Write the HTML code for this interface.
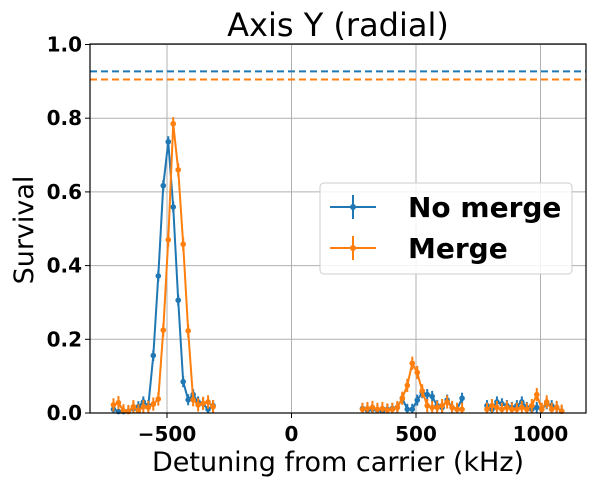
<!DOCTYPE html>
<html><head><meta charset="utf-8"><style>
body{margin:0;background:#fff}
svg text{font-family:"DejaVu Sans","Liberation Sans",sans-serif}
</style></head><body>
<svg id="c" width="599" height="487" viewBox="0 0 599 487" xmlns="http://www.w3.org/2000/svg">
<g id="grid"></g>
<g id="plot"></g>
<rect x="90" y="44" width="496" height="369" fill="none" stroke="#000" stroke-width="1.2"/>
<g id="ticks"></g>
<text x="338" y="36" font-size="32" text-anchor="middle">Axis Y (radial)</text>
<text x="338" y="471" font-size="27" text-anchor="middle">Detuning from carrier (kHz)</text>
<text transform="translate(33,230) rotate(-90)" font-size="27" text-anchor="middle">Survival</text>
<g>
<rect x="320" y="183" width="252" height="91" rx="4" fill="#fff" fill-opacity="0.85" stroke="#ccc"/>
<g>
<line x1="330" y1="207" x2="376" y2="207" stroke="#1f77b4" stroke-width="2"/><line x1="353" y1="195" x2="353" y2="219" stroke="#1f77b4" stroke-width="2"/><circle cx="353" cy="207" r="3" fill="#1f77b4"/>
<text x="408" y="217" font-size="28" font-weight="bold">No merge</text></g>
<g>
<line x1="330" y1="248" x2="376" y2="248" stroke="#ff7f0e" stroke-width="2"/><line x1="353" y1="236" x2="353" y2="260" stroke="#ff7f0e" stroke-width="2"/><circle cx="353" cy="248" r="3" fill="#ff7f0e"/>
<text x="408" y="258" font-size="28" font-weight="bold">Merge</text></g>
</g>
</svg>
<script>
const xTicks=[-500,0,500,1000];
const yTicks=[0.0,0.2,0.4,0.6,0.8,1.0];
const xA=[-715,-695,-675,-655,-635,-615,-595,-575,-555,-535,-515,-495,-475,-455,-435,-415,-395,-375,-355,-335,-315];
const blueA=[0.01,0.004,0.004,0.005,0.012,0.017,0.03,0.02,0.156,0.372,0.617,0.736,0.559,0.306,0.085,0.036,0.05,0.03,0.025,0.01,0.02];
const orangeA=[0.022,0.028,0.006,0.004,0.017,0.006,0.017,0.015,0.024,0.038,0.225,0.47,0.785,0.66,0.458,0.223,0.036,0.022,0.026,0.03,0.017];
const xB=[285,305,325,345,365,385,405,425,445,465,485,505,525,545,565,585,605,625,645,665,685];
const blueB=[0.012,0.008,0.01,0.008,0.006,0.01,0.012,0.015,0.04,0.01,0.01,0.035,0.055,0.05,0.045,0.02,0.015,0.035,0.015,0.01,0.04];
const orangeB=[0.01,0.012,0.015,0.01,0.012,0.008,0.01,0.015,0.04,0.075,0.135,0.11,0.06,0.02,0.015,0.015,0.02,0.03,0.015,0.01,0.01];
const xC=[785,805,825,845,865,885,905,925,945,965,985,1005,1025,1045,1065,1085];
const blueC=[0.02,0.01,0.03,0.025,0.02,0.015,0.02,0.03,0.015,0.01,0.015,0.01,0.025,0.02,0.015,0.005];
const orangeC=[0.01,0.02,0.015,0.01,0.015,0.01,0.01,0.015,0.01,0.02,0.05,0.01,0.03,0.01,0.015,0.005];
const errBlue=0.015, errOrange=0.018;
const blueRef=0.927, orangeRef=0.905;
const X=v=>291.5+v*0.249;
const Y=v=>413-v*368.5;
const NS='http://www.w3.org/2000/svg';
function mk(t,a,p){const e=document.createElementNS(NS,t);for(const k in a)e.setAttribute(k,a[k]);p.appendChild(e);return e;}
const grid=document.getElementById('grid'),plot=document.getElementById('plot'),ticks=document.getElementById('ticks');
xTicks.forEach(t=>{
 const g=mk('line',{x1:X(t),x2:X(t),y1:44,y2:413,stroke:'#b0b0b0','stroke-width':1},grid);
 
 
 mk('line',{x1:X(t),x2:X(t),y1:413,y2:418,stroke:'#000'},ticks);
 const l=mk('text',{x:X(t),y:441,'font-size':20,'font-weight':'bold','text-anchor':'middle'},ticks);
 l.textContent=t<0?'\u2212'+(-t):String(t);
 
 
});
yTicks.forEach(t=>{
 const g=mk('line',{x1:90,x2:586,y1:Y(t),y2:Y(t),stroke:'#b0b0b0','stroke-width':1},grid);
 
 
 mk('line',{x1:85,x2:90,y1:Y(t),y2:Y(t),stroke:'#000'},ticks);
 const l=mk('text',{x:82,y:Y(t)+7,'font-size':20,'font-weight':'bold','text-anchor':'end'},ticks);
 l.textContent=t.toFixed(1);
 
 
});
[[blueRef,'#1f77b4','blue-reference-line'],[orangeRef,'#ff7f0e','orange-reference-line']].forEach(r=>{
 const l=mk('line',{x1:90,x2:586,y1:Y(r[0]),y2:Y(r[0]),stroke:r[1],'stroke-width':2,'stroke-dasharray':'7,4'},plot);
 
 
});
function series(xs,ys,err,col,name){
 const p=mk('polyline',{points:xs.map((x,i)=>X(x)+','+Y(ys[i])).join(' '),fill:'none',stroke:col,'stroke-width':2},plot);
 
 
 xs.forEach((x,i)=>{
  mk('line',{x1:X(x),x2:X(x),y1:Y(ys[i]+err),y2:Y(Math.max(0,ys[i]-err)),stroke:col,'stroke-width':2},plot);
  const c=mk('circle',{cx:X(x),cy:Y(ys[i]),r:2.8,fill:col},plot);
  
  
 });
}
[[xA,blueA,orangeA],[xB,blueB,orangeB],[xC,blueC,orangeC]].forEach(s=>{
 series(s[0],s[1],errBlue,'#1f77b4','no-merge');
 series(s[0],s[2],errOrange,'#ff7f0e','merge');
});
</script>
</body></html>
